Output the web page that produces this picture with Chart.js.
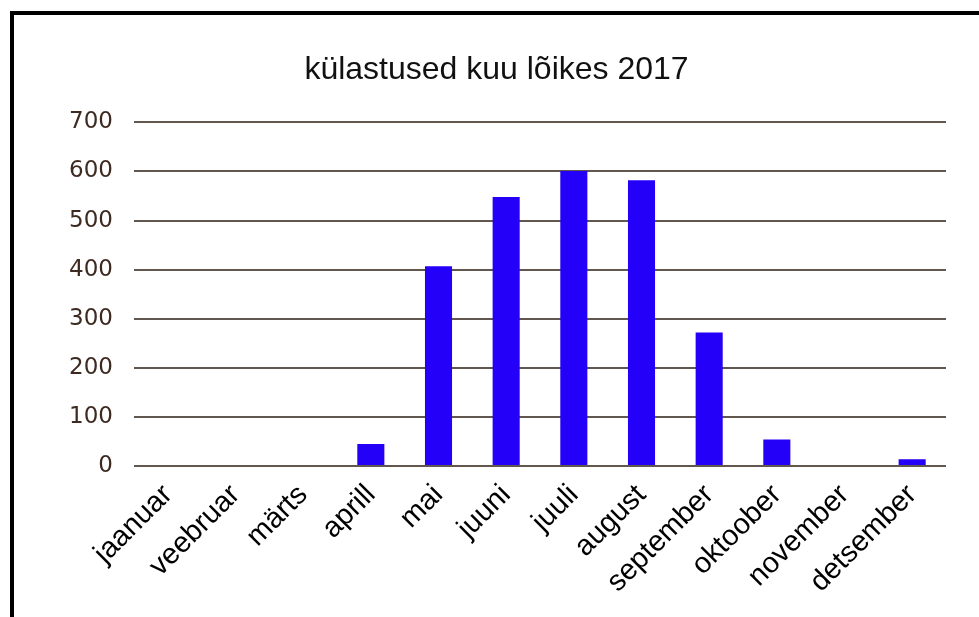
<!DOCTYPE html>
<html>
<head>
<meta charset="utf-8">
<script src="https://cdn.jsdelivr.net/npm/chart.js@4.4.0/dist/chart.umd.min.js"></script>
<style>
  html, body { margin: 0; padding: 0; background: #fff; }
  body { width: 979px; height: 617px; overflow: hidden; position: relative; }
  #frame {
    position: absolute; left: 10px; top: 11px;
    width: 965px; height: 602px;
    border-left: 4px solid #000; border-top: 4px solid #000;
  }
  #myChart { display: block; }
</style>
</head>
<body>
<div id="frame"><canvas id="myChart" width="965" height="602"></canvas></div>
<script>
// months (x categories)
var months = ['jaanuar', 'veebruar', 'märts', 'aprill', 'mai', 'juuni', 'juuli', 'august', 'september', 'oktoober', 'november', 'detsember'];
// visits per month
var visits = [0, 0, 0, 45, 407, 548, 601, 582, 272, 54, 0, 14];
var yMax = 700;
var yStep = 100;
var chartTitle = 'külastused kuu lõikes 2017';

const data = {
  labels: months,
  datasets: [{
    label: 'külastused',
    data: visits,
    backgroundColor: '#2400f8',
    borderWidth: 0,
    barPercentage: 0.4,
    categoryPercentage: 1
  }]
};

// config
const config = {
  type: 'bar',
  data,
  options: {
    responsive: false,
    animation: false,
    plugins: {
      legend: { display: false },
      tooltip: { enabled: false },
      title: {
        display: true,
        text: chartTitle,
        color: '#111',
        font: { family: 'Liberation Sans, Arial, sans-serif', size: 32, weight: 'normal' },
        padding: { top: 36, bottom: 33 }
      }
    },
    scales: {
      x: {
        grid: { display: false },
        border: { display: false },
        ticks: {
          autoSkip: false,
          maxRotation: 45,
          minRotation: 45,
          padding: 4,
          color: '#000',
          font: { family: 'Liberation Sans, Arial, sans-serif', size: 29 }
        },
        afterFit: function (scale) { scale.height = 151; }
      },
      y: {
        min: 0,
        max: yMax,
        grid: { color: '#62574e', lineWidth: 2, drawTicks: false },
        border: { display: false },
        ticks: {
          stepSize: yStep,
          padding: 21,
          color: '#3d2b22',
          font: { family: 'DejaVu Sans, sans-serif', size: 23 }
        },
        afterFit: function (scale) { scale.width = 120; }
      },
      // empty strip on the right so the plot ends short of the edge
      yRight: {
        position: 'right',
        grid: { display: false },
        border: { display: false },
        ticks: { display: false },
        afterFit: function (scale) { scale.width = 33; }
      }
    }
  }
};

// render init block
const myChart = new Chart(document.getElementById('myChart'), config);
</script>
</body>
</html>
